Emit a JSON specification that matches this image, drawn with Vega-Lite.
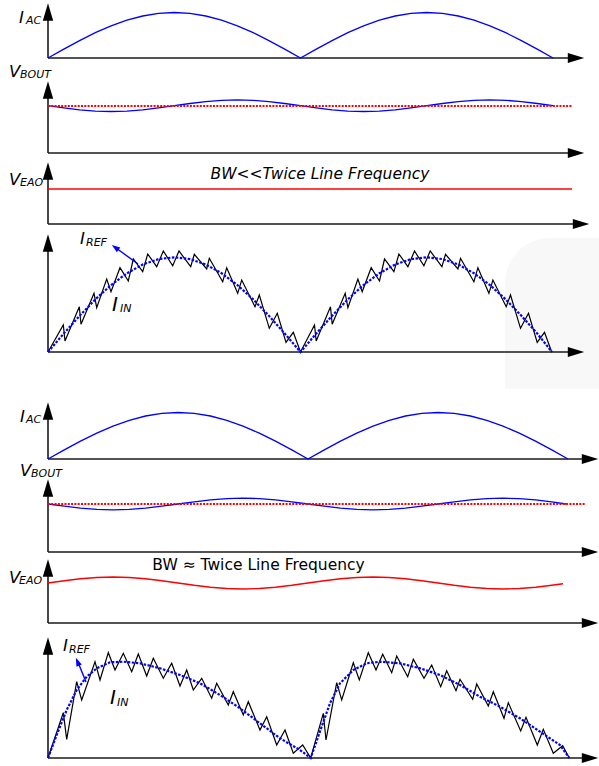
{
  "$schema": "https://vega.github.io/schema/vega-lite/v6.json",
  "width": 599,
  "height": 766,
  "autosize": {"type": "fit", "contains": "padding"},
  "padding": 0,
  "background": "white",
  "config": {"view": {"stroke": null}},
  "datasets": {
    "bg": [{"x": 505, "x2": 599, "y": 238, "y2": 389}],
    "vrules": [
      {"x": 48, "y": 12, "y2": 58}, {"x": 48, "y": 90, "y2": 153}, {"x": 48, "y": 171, "y2": 224}, {"x": 48, "y": 243, "y2": 352},
      {"x": 48, "y": 411, "y2": 459}, {"x": 48, "y": 488, "y2": 552}, {"x": 48, "y": 568, "y2": 623}, {"x": 48, "y": 646, "y2": 758}
    ],
    "hrules": [
      {"x": 48, "x2": 576, "y": 58}, {"x": 48, "x2": 576, "y": 153}, {"x": 48, "x2": 581, "y": 224}, {"x": 48, "x2": 576, "y": 352},
      {"x": 48, "x2": 590, "y": 459}, {"x": 48, "x2": 590, "y": 552}, {"x": 48, "x2": 590, "y": 623}, {"x": 48, "x2": 590, "y": 758}
    ],
    "upTips": [
      {"x": 48, "y": 12}, {"x": 48, "y": 90}, {"x": 48, "y": 171}, {"x": 48, "y": 243},
      {"x": 48, "y": 411}, {"x": 48, "y": 488}, {"x": 48, "y": 568}, {"x": 48, "y": 646}
    ],
    "rightTips": [
      {"x": 576, "y": 58}, {"x": 576, "y": 153}, {"x": 581, "y": 224}, {"x": 576, "y": 352},
      {"x": 590, "y": 459}, {"x": 590, "y": 552}, {"x": 590, "y": 623}, {"x": 590, "y": 758}
    ],
    "blueSolid": [
      {"s": "a", "x": 48, "y": 58}, {"s": "a", "x": 63.8, "y": 49.1}, {"s": "a", "x": 79.6, "y": 40.6}, {"s": "a", "x": 95.3, "y": 32.7}, {"s": "a", "x": 111.1, "y": 25.8}, {"s": "a", "x": 126.9, "y": 20.2}, {"s": "a", "x": 142.7, "y": 16.0}, {"s": "a", "x": 158.5, "y": 13.4}, {"s": "a", "x": 174.3, "y": 12.5}, {"s": "a", "x": 190.0, "y": 13.4}, {"s": "a", "x": 205.8, "y": 16.0}, {"s": "a", "x": 221.6, "y": 20.2}, {"s": "a", "x": 237.4, "y": 25.8}, {"s": "a", "x": 253.2, "y": 32.7}, {"s": "a", "x": 268.9, "y": 40.6}, {"s": "a", "x": 284.7, "y": 49.1}, {"s": "a", "x": 300.5, "y": 58},
      {"s": "a", "x": 316.3, "y": 49.1}, {"s": "a", "x": 332.1, "y": 40.6}, {"s": "a", "x": 347.8, "y": 32.7}, {"s": "a", "x": 363.6, "y": 25.8}, {"s": "a", "x": 379.4, "y": 20.2}, {"s": "a", "x": 395.2, "y": 16.0}, {"s": "a", "x": 411.0, "y": 13.4}, {"s": "a", "x": 426.8, "y": 12.5}, {"s": "a", "x": 442.5, "y": 13.4}, {"s": "a", "x": 458.3, "y": 16.0}, {"s": "a", "x": 474.1, "y": 20.2}, {"s": "a", "x": 489.9, "y": 25.8}, {"s": "a", "x": 505.7, "y": 32.7}, {"s": "a", "x": 521.4, "y": 40.6}, {"s": "a", "x": 537.2, "y": 49.1}, {"s": "a", "x": 553.0, "y": 58},
      {"s": "b", "x": 48, "y": 105.7}, {"s": "b", "x": 63.8, "y": 107.9}, {"s": "b", "x": 79.6, "y": 109.8}, {"s": "b", "x": 95.3, "y": 111.1}, {"s": "b", "x": 111.1, "y": 111.5}, {"s": "b", "x": 126.9, "y": 111.1}, {"s": "b", "x": 142.7, "y": 109.8}, {"s": "b", "x": 158.5, "y": 107.9}, {"s": "b", "x": 174.3, "y": 105.7}, {"s": "b", "x": 190.0, "y": 103.5}, {"s": "b", "x": 205.8, "y": 101.6}, {"s": "b", "x": 221.6, "y": 100.3}, {"s": "b", "x": 237.4, "y": 99.9}, {"s": "b", "x": 253.2, "y": 100.3}, {"s": "b", "x": 268.9, "y": 101.6}, {"s": "b", "x": 284.7, "y": 103.5}, {"s": "b", "x": 300.5, "y": 105.7},
      {"s": "b", "x": 316.3, "y": 107.9}, {"s": "b", "x": 332.1, "y": 109.8}, {"s": "b", "x": 347.8, "y": 111.1}, {"s": "b", "x": 363.6, "y": 111.5}, {"s": "b", "x": 379.4, "y": 111.1}, {"s": "b", "x": 395.2, "y": 109.8}, {"s": "b", "x": 411.0, "y": 107.9}, {"s": "b", "x": 426.8, "y": 105.7}, {"s": "b", "x": 442.5, "y": 103.5}, {"s": "b", "x": 458.3, "y": 101.6}, {"s": "b", "x": 474.1, "y": 100.3}, {"s": "b", "x": 489.9, "y": 99.9}, {"s": "b", "x": 505.7, "y": 100.3}, {"s": "b", "x": 521.4, "y": 101.6}, {"s": "b", "x": 537.2, "y": 103.5}, {"s": "b", "x": 553.0, "y": 105.7},
      {"s": "c", "x": 48, "y": 459}, {"s": "c", "x": 64.3, "y": 449.9}, {"s": "c", "x": 80.5, "y": 441.2}, {"s": "c", "x": 96.8, "y": 433.2}, {"s": "c", "x": 113, "y": 426.1}, {"s": "c", "x": 129.3, "y": 420.3}, {"s": "c", "x": 145.5, "y": 416.0}, {"s": "c", "x": 161.8, "y": 413.4}, {"s": "c", "x": 178, "y": 412.5}, {"s": "c", "x": 194.3, "y": 413.4}, {"s": "c", "x": 210.5, "y": 416.0}, {"s": "c", "x": 226.8, "y": 420.3}, {"s": "c", "x": 243, "y": 426.1}, {"s": "c", "x": 259.3, "y": 433.2}, {"s": "c", "x": 275.5, "y": 441.2}, {"s": "c", "x": 291.8, "y": 449.9}, {"s": "c", "x": 308, "y": 459},
      {"s": "c", "x": 324.3, "y": 449.9}, {"s": "c", "x": 340.5, "y": 441.2}, {"s": "c", "x": 356.8, "y": 433.2}, {"s": "c", "x": 373, "y": 426.1}, {"s": "c", "x": 389.3, "y": 420.3}, {"s": "c", "x": 405.5, "y": 416.0}, {"s": "c", "x": 421.8, "y": 413.4}, {"s": "c", "x": 438, "y": 412.5}, {"s": "c", "x": 454.3, "y": 413.4}, {"s": "c", "x": 470.5, "y": 416.0}, {"s": "c", "x": 486.8, "y": 420.3}, {"s": "c", "x": 503, "y": 426.1}, {"s": "c", "x": 519.3, "y": 433.2}, {"s": "c", "x": 535.5, "y": 441.2}, {"s": "c", "x": 551.8, "y": 449.9}, {"s": "c", "x": 568, "y": 459},
      {"s": "d", "x": 48, "y": 504}, {"s": "d", "x": 64.3, "y": 506.2}, {"s": "d", "x": 80.5, "y": 508.1}, {"s": "d", "x": 96.8, "y": 509.4}, {"s": "d", "x": 113, "y": 509.8}, {"s": "d", "x": 129.3, "y": 509.4}, {"s": "d", "x": 145.5, "y": 508.1}, {"s": "d", "x": 161.8, "y": 506.2}, {"s": "d", "x": 178, "y": 504}, {"s": "d", "x": 194.3, "y": 501.8}, {"s": "d", "x": 210.5, "y": 499.9}, {"s": "d", "x": 226.8, "y": 498.6}, {"s": "d", "x": 243, "y": 498.2}, {"s": "d", "x": 259.3, "y": 498.6}, {"s": "d", "x": 275.5, "y": 499.9}, {"s": "d", "x": 291.8, "y": 501.8}, {"s": "d", "x": 308, "y": 504},
      {"s": "d", "x": 324.3, "y": 506.2}, {"s": "d", "x": 340.5, "y": 508.1}, {"s": "d", "x": 356.8, "y": 509.4}, {"s": "d", "x": 373, "y": 509.8}, {"s": "d", "x": 389.3, "y": 509.4}, {"s": "d", "x": 405.5, "y": 508.1}, {"s": "d", "x": 421.8, "y": 506.2}, {"s": "d", "x": 438, "y": 504}, {"s": "d", "x": 454.3, "y": 501.8}, {"s": "d", "x": 470.5, "y": 499.9}, {"s": "d", "x": 486.8, "y": 498.6}, {"s": "d", "x": 503, "y": 498.2}, {"s": "d", "x": 519.3, "y": 498.6}, {"s": "d", "x": 535.5, "y": 499.9}, {"s": "d", "x": 551.8, "y": 501.8}, {"s": "d", "x": 566, "y": 504}
    ],
    "redSolid": [
      {"s": "e", "x": 48, "y": 189}, {"s": "e", "x": 572, "y": 189},
      {"s": "f", "x": 48, "y": 583}, {"s": "f", "x": 64.3, "y": 580.7}, {"s": "f", "x": 80.5, "y": 578.8}, {"s": "f", "x": 96.8, "y": 577.5}, {"s": "f", "x": 113, "y": 577}, {"s": "f", "x": 129.3, "y": 577.5}, {"s": "f", "x": 145.5, "y": 578.8}, {"s": "f", "x": 161.8, "y": 580.7}, {"s": "f", "x": 178, "y": 583}, {"s": "f", "x": 194.3, "y": 585.3}, {"s": "f", "x": 210.5, "y": 587.2}, {"s": "f", "x": 226.8, "y": 588.5}, {"s": "f", "x": 243, "y": 589}, {"s": "f", "x": 259.3, "y": 588.5}, {"s": "f", "x": 275.5, "y": 587.2}, {"s": "f", "x": 291.8, "y": 585.3}, {"s": "f", "x": 308, "y": 583},
      {"s": "f", "x": 324.3, "y": 580.7}, {"s": "f", "x": 340.5, "y": 578.8}, {"s": "f", "x": 356.8, "y": 577.5}, {"s": "f", "x": 373, "y": 577}, {"s": "f", "x": 389.3, "y": 577.5}, {"s": "f", "x": 405.5, "y": 578.8}, {"s": "f", "x": 421.8, "y": 580.7}, {"s": "f", "x": 438, "y": 583}, {"s": "f", "x": 454.3, "y": 585.3}, {"s": "f", "x": 470.5, "y": 587.2}, {"s": "f", "x": 486.8, "y": 588.5}, {"s": "f", "x": 503, "y": 589}, {"s": "f", "x": 519.3, "y": 588.5}, {"s": "f", "x": 535.5, "y": 587.2}, {"s": "f", "x": 551.8, "y": 585.3}, {"s": "f", "x": 563, "y": 583.8}
    ],
    "redDot": [
      {"s": "g", "x": 48, "y": 106}, {"s": "g", "x": 572, "y": 106},
      {"s": "h", "x": 48, "y": 504}, {"s": "h", "x": 586, "y": 504}
    ],
    "blueDot": [
      {"s": "i", "x": 48, "y": 352}, {"s": "i", "x": 63.8, "y": 333.5}, {"s": "i", "x": 79.6, "y": 315.8}, {"s": "i", "x": 95.3, "y": 299.4}, {"s": "i", "x": 111.1, "y": 285.0}, {"s": "i", "x": 126.9, "y": 273.3}, {"s": "i", "x": 142.7, "y": 264.5}, {"s": "i", "x": 158.5, "y": 259.1}, {"s": "i", "x": 174.3, "y": 257.3}, {"s": "i", "x": 190.0, "y": 259.1}, {"s": "i", "x": 205.8, "y": 264.5}, {"s": "i", "x": 221.6, "y": 273.3}, {"s": "i", "x": 237.4, "y": 285.0}, {"s": "i", "x": 253.2, "y": 299.4}, {"s": "i", "x": 268.9, "y": 315.8}, {"s": "i", "x": 284.7, "y": 333.5}, {"s": "i", "x": 300.5, "y": 352},
      {"s": "i", "x": 316.3, "y": 333.5}, {"s": "i", "x": 332.1, "y": 315.8}, {"s": "i", "x": 347.8, "y": 299.4}, {"s": "i", "x": 363.6, "y": 285.0}, {"s": "i", "x": 379.4, "y": 273.3}, {"s": "i", "x": 395.2, "y": 264.5}, {"s": "i", "x": 411.0, "y": 259.1}, {"s": "i", "x": 426.8, "y": 257.3}, {"s": "i", "x": 442.5, "y": 259.1}, {"s": "i", "x": 458.3, "y": 264.5}, {"s": "i", "x": 474.1, "y": 273.3}, {"s": "i", "x": 489.9, "y": 285.0}, {"s": "i", "x": 505.7, "y": 299.4}, {"s": "i", "x": 521.4, "y": 315.8}, {"s": "i", "x": 537.2, "y": 333.5}, {"s": "i", "x": 552, "y": 352},
      {"s": "j", "x": 48, "y": 758}, {"s": "j", "x": 57, "y": 734}, {"s": "j", "x": 66.7, "y": 710}, {"s": "j", "x": 76.7, "y": 690}, {"s": "j", "x": 86.7, "y": 676.7}, {"s": "j", "x": 96.7, "y": 668.3}, {"s": "j", "x": 110, "y": 662.3}, {"s": "j", "x": 123.3, "y": 661.7}, {"s": "j", "x": 140, "y": 663.3}, {"s": "j", "x": 160, "y": 668.3}, {"s": "j", "x": 180, "y": 675}, {"s": "j", "x": 200, "y": 683.3}, {"s": "j", "x": 220, "y": 695}, {"s": "j", "x": 240, "y": 708.3}, {"s": "j", "x": 260, "y": 723.3}, {"s": "j", "x": 280, "y": 738.3}, {"s": "j", "x": 300, "y": 750}, {"s": "j", "x": 310.7, "y": 758},
      {"s": "j", "x": 317, "y": 740}, {"s": "j", "x": 323.3, "y": 722}, {"s": "j", "x": 330, "y": 703.3}, {"s": "j", "x": 340, "y": 683.3}, {"s": "j", "x": 353.3, "y": 670}, {"s": "j", "x": 366.7, "y": 663.3}, {"s": "j", "x": 380, "y": 661.7}, {"s": "j", "x": 400, "y": 663.3}, {"s": "j", "x": 420, "y": 668.3}, {"s": "j", "x": 440, "y": 675}, {"s": "j", "x": 460, "y": 685}, {"s": "j", "x": 480, "y": 696.7}, {"s": "j", "x": 500, "y": 706.7}, {"s": "j", "x": 520, "y": 718.3}, {"s": "j", "x": 540, "y": 731.7}, {"s": "j", "x": 560, "y": 745}, {"s": "j", "x": 569.3, "y": 758}
    ],
    "zig": [
      {"s": "k", "x": 48, "y": 352}, {"s": "k", "x": 63.3, "y": 325}, {"s": "k", "x": 65, "y": 341}, {"s": "k", "x": 79.3, "y": 306.7}, {"s": "k", "x": 81, "y": 324.3}, {"s": "k", "x": 94, "y": 293.3}, {"s": "k", "x": 96.7, "y": 307.7}, {"s": "k", "x": 106.7, "y": 279}, {"s": "k", "x": 111, "y": 291.7}, {"s": "k", "x": 120, "y": 267.7}, {"s": "k", "x": 128.3, "y": 281}, {"s": "k", "x": 133.3, "y": 259}, {"s": "k", "x": 142.7, "y": 271.7}, {"s": "k", "x": 147.7, "y": 254}, {"s": "k", "x": 156.7, "y": 266.7}, {"s": "k", "x": 163.3, "y": 251}, {"s": "k", "x": 172.7, "y": 265.7}, {"s": "k", "x": 179, "y": 251}, {"s": "k", "x": 190.7, "y": 266.7}, {"s": "k", "x": 194.3, "y": 254.3}, {"s": "k", "x": 206.7, "y": 269}, {"s": "k", "x": 209.3, "y": 258.3}, {"s": "k", "x": 222.7, "y": 281.7}, {"s": "k", "x": 226.7, "y": 267.7}, {"s": "k", "x": 237.7, "y": 293.3}, {"s": "k", "x": 241.7, "y": 280}, {"s": "k", "x": 255, "y": 306.7}, {"s": "k", "x": 259.3, "y": 295}, {"s": "k", "x": 269.3, "y": 328.3}, {"s": "k", "x": 277.3, "y": 313.3}, {"s": "k", "x": 286, "y": 342.3}, {"s": "k", "x": 293.3, "y": 332.3}, {"s": "k", "x": 300.5, "y": 352},
      {"s": "k", "x": 314.5, "y": 325}, {"s": "k", "x": 316.2, "y": 341}, {"s": "k", "x": 330.5, "y": 306.7}, {"s": "k", "x": 332.2, "y": 324.3}, {"s": "k", "x": 345.2, "y": 293.3}, {"s": "k", "x": 347.9, "y": 307.7}, {"s": "k", "x": 357.9, "y": 279}, {"s": "k", "x": 362.2, "y": 291.7}, {"s": "k", "x": 371.2, "y": 267.7}, {"s": "k", "x": 379.5, "y": 281}, {"s": "k", "x": 384.5, "y": 259}, {"s": "k", "x": 393.9, "y": 271.7}, {"s": "k", "x": 398.9, "y": 254}, {"s": "k", "x": 407.9, "y": 266.7}, {"s": "k", "x": 414.5, "y": 251}, {"s": "k", "x": 423.9, "y": 265.7}, {"s": "k", "x": 430.2, "y": 251}, {"s": "k", "x": 441.9, "y": 266.7}, {"s": "k", "x": 445.5, "y": 254.3}, {"s": "k", "x": 457.9, "y": 269}, {"s": "k", "x": 460.5, "y": 258.3}, {"s": "k", "x": 473.9, "y": 281.7}, {"s": "k", "x": 477.9, "y": 267.7}, {"s": "k", "x": 488.9, "y": 293.3}, {"s": "k", "x": 492.9, "y": 280}, {"s": "k", "x": 506.2, "y": 306.7}, {"s": "k", "x": 510.5, "y": 295}, {"s": "k", "x": 520.5, "y": 328.3}, {"s": "k", "x": 528.5, "y": 313.3}, {"s": "k", "x": 537.2, "y": 342.3}, {"s": "k", "x": 544.5, "y": 332.3}, {"s": "k", "x": 551.7, "y": 352},
      {"s": "l", "x": 48, "y": 758}, {"s": "l", "x": 63.3, "y": 712.7}, {"s": "l", "x": 66.7, "y": 739.3}, {"s": "l", "x": 76.7, "y": 681.7}, {"s": "l", "x": 81.7, "y": 700}, {"s": "l", "x": 95, "y": 661.7}, {"s": "l", "x": 100, "y": 680}, {"s": "l", "x": 108.3, "y": 652.7}, {"s": "l", "x": 115, "y": 670}, {"s": "l", "x": 123.3, "y": 653.3}, {"s": "l", "x": 131.7, "y": 671.7}, {"s": "l", "x": 138.3, "y": 654}, {"s": "l", "x": 146.7, "y": 676}, {"s": "l", "x": 153.3, "y": 658.3}, {"s": "l", "x": 163.3, "y": 678.3}, {"s": "l", "x": 171.7, "y": 663.3}, {"s": "l", "x": 180, "y": 686}, {"s": "l", "x": 186.7, "y": 670}, {"s": "l", "x": 193.3, "y": 690}, {"s": "l", "x": 201.7, "y": 678.3}, {"s": "l", "x": 211.7, "y": 698.3}, {"s": "l", "x": 216.7, "y": 683.3}, {"s": "l", "x": 228.3, "y": 705}, {"s": "l", "x": 233.3, "y": 691.7}, {"s": "l", "x": 243.3, "y": 715}, {"s": "l", "x": 248.3, "y": 701.7}, {"s": "l", "x": 260, "y": 730}, {"s": "l", "x": 266.7, "y": 716.7}, {"s": "l", "x": 276.7, "y": 745}, {"s": "l", "x": 285, "y": 730}, {"s": "l", "x": 293.3, "y": 753.3}, {"s": "l", "x": 302.7, "y": 745}, {"s": "l", "x": 310.7, "y": 758},
      {"s": "l", "x": 323.3, "y": 713.3}, {"s": "l", "x": 326, "y": 740}, {"s": "l", "x": 336.7, "y": 682.7}, {"s": "l", "x": 341.7, "y": 700}, {"s": "l", "x": 353.3, "y": 662.7}, {"s": "l", "x": 359.3, "y": 680}, {"s": "l", "x": 368.3, "y": 652.7}, {"s": "l", "x": 376, "y": 670}, {"s": "l", "x": 382.7, "y": 654.3}, {"s": "l", "x": 391.7, "y": 672.7}, {"s": "l", "x": 396.7, "y": 656}, {"s": "l", "x": 407.7, "y": 676.7}, {"s": "l", "x": 413.3, "y": 659.3}, {"s": "l", "x": 424, "y": 678.3}, {"s": "l", "x": 431.7, "y": 665}, {"s": "l", "x": 440.7, "y": 686.7}, {"s": "l", "x": 446.7, "y": 670.7}, {"s": "l", "x": 456, "y": 690.7}, {"s": "l", "x": 460, "y": 679.3}, {"s": "l", "x": 472.7, "y": 699.3}, {"s": "l", "x": 476.7, "y": 684}, {"s": "l", "x": 488.3, "y": 706}, {"s": "l", "x": 493.3, "y": 691.7}, {"s": "l", "x": 504, "y": 718.3}, {"s": "l", "x": 508.3, "y": 702.7}, {"s": "l", "x": 520.7, "y": 731}, {"s": "l", "x": 526, "y": 717.3}, {"s": "l", "x": 537.3, "y": 745}, {"s": "l", "x": 543.3, "y": 729.3}, {"s": "l", "x": 553.3, "y": 753.3}, {"s": "l", "x": 562.7, "y": 745.7}, {"s": "l", "x": 569.3, "y": 758}
    ],
    "arrowLines": [
      {"s": "m", "x": 138, "y": 264}, {"s": "m", "x": 114, "y": 246.5},
      {"s": "n", "x": 86, "y": 682}, {"s": "n", "x": 77.5, "y": 661}
    ],
    "arrowHeads": [
      {"w": "upper", "x": 115.2, "y": 247.4},
      {"w": "lower", "x": 77.5, "y": 661.7}
    ],
    "labels": [
      {"k": "big", "t": "I", "x": 19, "y": 23},
      {"k": "sub", "t": "AC", "x": 26, "y": 24},
      {"k": "big", "t": "V", "x": 9, "y": 77},
      {"k": "sub", "t": "BOUT", "x": 20, "y": 78},
      {"k": "big", "t": "V", "x": 9, "y": 185},
      {"k": "sub", "t": "EAO", "x": 20, "y": 186},
      {"k": "big", "t": "I", "x": 80, "y": 244},
      {"k": "sub", "t": "REF", "x": 86, "y": 246},
      {"k": "big2", "t": "I", "x": 112, "y": 311},
      {"k": "sub", "t": "IN", "x": 120, "y": 312},
      {"k": "big", "t": "I", "x": 20, "y": 422},
      {"k": "sub", "t": "AC", "x": 26, "y": 423},
      {"k": "big", "t": "V", "x": 20, "y": 476},
      {"k": "sub", "t": "BOUT", "x": 31, "y": 477},
      {"k": "big", "t": "V", "x": 9, "y": 583},
      {"k": "sub", "t": "EAO", "x": 19, "y": 584},
      {"k": "big", "t": "I", "x": 63, "y": 651},
      {"k": "sub", "t": "REF", "x": 69, "y": 653},
      {"k": "big2", "t": "I", "x": 110, "y": 704},
      {"k": "sub", "t": "IN", "x": 117, "y": 706}
    ],
    "notes": [
      {"k": "it", "t": "BW<<Twice Line Frequency", "x": 320, "y": 179},
      {"k": "up", "t": "BW ≈ Twice Line Frequency", "x": 258.5, "y": 570}
    ]
  },
  "layer": [
    {
      "data": {"name": "bg"},
      "mark": {"type": "rect", "color": "#f8f8f8", "cornerRadiusTopLeft": 45},
      "encoding": {
        "x": {"field": "x", "type": "quantitative", "scale": {"domain": [0, 599], "nice": false, "zero": false}, "axis": null},
        "x2": {"field": "x2"},
        "y": {"field": "y", "type": "quantitative", "scale": {"domain": [0, 766], "nice": false, "zero": false, "reverse": true}, "axis": null},
        "y2": {"field": "y2"}
      }
    },
    {
      "data": {"name": "vrules"},
      "mark": {"type": "rule", "color": "#1a1a1a", "strokeWidth": 1.6},
      "encoding": {
        "x": {"field": "x", "type": "quantitative", "scale": {"domain": [0, 599], "nice": false, "zero": false}, "axis": null},
        "y": {"field": "y", "type": "quantitative", "scale": {"domain": [0, 766], "nice": false, "zero": false, "reverse": true}, "axis": null},
        "y2": {"field": "y2"}
      }
    },
    {
      "data": {"name": "hrules"},
      "mark": {"type": "rule", "color": "#1a1a1a", "strokeWidth": 1.6},
      "encoding": {
        "x": {"field": "x", "type": "quantitative", "scale": {"domain": [0, 599], "nice": false, "zero": false}, "axis": null},
        "x2": {"field": "x2"},
        "y": {"field": "y", "type": "quantitative", "scale": {"domain": [0, 766], "nice": false, "zero": false, "reverse": true}, "axis": null}
      }
    },
    {
      "data": {"name": "upTips"},
      "mark": {"type": "point", "shape": "M0,-1L0.6,1L-0.6,1Z", "size": 300, "filled": true, "color": "black", "opacity": 1, "strokeWidth": 0},
      "encoding": {
        "x": {"field": "x", "type": "quantitative", "scale": {"domain": [0, 599], "nice": false, "zero": false}, "axis": null},
        "y": {"field": "y", "type": "quantitative", "scale": {"domain": [0, 766], "nice": false, "zero": false, "reverse": true}, "axis": null}
      }
    },
    {
      "data": {"name": "rightTips"},
      "mark": {"type": "point", "shape": "M1,0L-1,-0.62L-1,0.62Z", "size": 270, "filled": true, "color": "black", "opacity": 1, "strokeWidth": 0},
      "encoding": {
        "x": {"field": "x", "type": "quantitative", "scale": {"domain": [0, 599], "nice": false, "zero": false}, "axis": null},
        "y": {"field": "y", "type": "quantitative", "scale": {"domain": [0, 766], "nice": false, "zero": false, "reverse": true}, "axis": null}
      }
    },
    {
      "data": {"name": "blueSolid"},
      "mark": {"type": "line", "color": "#0000ff", "strokeWidth": 1.3},
      "encoding": {
        "x": {"field": "x", "type": "quantitative", "scale": {"domain": [0, 599], "nice": false, "zero": false}, "axis": null},
        "y": {"field": "y", "type": "quantitative", "scale": {"domain": [0, 766], "nice": false, "zero": false, "reverse": true}, "axis": null},
        "detail": {"field": "s"}
      }
    },
    {
      "data": {"name": "redSolid"},
      "mark": {"type": "line", "color": "#ff0000", "strokeWidth": 1.4},
      "encoding": {
        "x": {"field": "x", "type": "quantitative", "scale": {"domain": [0, 599], "nice": false, "zero": false}, "axis": null},
        "y": {"field": "y", "type": "quantitative", "scale": {"domain": [0, 766], "nice": false, "zero": false, "reverse": true}, "axis": null},
        "detail": {"field": "s"}
      }
    },
    {
      "data": {"name": "redDot"},
      "mark": {"type": "line", "color": "#ff0000", "strokeWidth": 2.2, "strokeDash": [2, 1.3]},
      "encoding": {
        "x": {"field": "x", "type": "quantitative", "scale": {"domain": [0, 599], "nice": false, "zero": false}, "axis": null},
        "y": {"field": "y", "type": "quantitative", "scale": {"domain": [0, 766], "nice": false, "zero": false, "reverse": true}, "axis": null},
        "detail": {"field": "s"}
      }
    },
    {
      "data": {"name": "zig"},
      "mark": {"type": "line", "color": "#000000", "strokeWidth": 1.2},
      "encoding": {
        "x": {"field": "x", "type": "quantitative", "scale": {"domain": [0, 599], "nice": false, "zero": false}, "axis": null},
        "y": {"field": "y", "type": "quantitative", "scale": {"domain": [0, 766], "nice": false, "zero": false, "reverse": true}, "axis": null},
        "detail": {"field": "s"}
      }
    },
    {
      "data": {"name": "blueDot"},
      "mark": {"type": "line", "color": "#0000ff", "strokeWidth": 2.2, "strokeDash": [2.5, 1.5]},
      "encoding": {
        "x": {"field": "x", "type": "quantitative", "scale": {"domain": [0, 599], "nice": false, "zero": false}, "axis": null},
        "y": {"field": "y", "type": "quantitative", "scale": {"domain": [0, 766], "nice": false, "zero": false, "reverse": true}, "axis": null},
        "detail": {"field": "s"}
      }
    },
    {
      "data": {"name": "arrowLines"},
      "mark": {"type": "line", "color": "#0000ff", "strokeWidth": 1.4},
      "encoding": {
        "x": {"field": "x", "type": "quantitative", "scale": {"domain": [0, 599], "nice": false, "zero": false}, "axis": null},
        "y": {"field": "y", "type": "quantitative", "scale": {"domain": [0, 766], "nice": false, "zero": false, "reverse": true}, "axis": null},
        "detail": {"field": "s"}
      }
    },
    {
      "data": {"name": "arrowHeads"},
      "transform": [{"filter": "datum.w === 'upper'"}],
      "mark": {"type": "point", "shape": "M0,-1L0.7,1L-0.7,1Z", "size": 70, "filled": true, "color": "#0000ff", "opacity": 1, "strokeWidth": 0, "angle": 306},
      "encoding": {
        "x": {"field": "x", "type": "quantitative", "scale": {"domain": [0, 599], "nice": false, "zero": false}, "axis": null},
        "y": {"field": "y", "type": "quantitative", "scale": {"domain": [0, 766], "nice": false, "zero": false, "reverse": true}, "axis": null}
      }
    },
    {
      "data": {"name": "arrowHeads"},
      "transform": [{"filter": "datum.w === 'lower'"}],
      "mark": {"type": "point", "shape": "M0,-1L0.7,1L-0.7,1Z", "size": 70, "filled": true, "color": "#0000ff", "opacity": 1, "strokeWidth": 0, "angle": 337},
      "encoding": {
        "x": {"field": "x", "type": "quantitative", "scale": {"domain": [0, 599], "nice": false, "zero": false}, "axis": null},
        "y": {"field": "y", "type": "quantitative", "scale": {"domain": [0, 766], "nice": false, "zero": false, "reverse": true}, "axis": null}
      }
    },
    {
      "data": {"name": "labels"},
      "transform": [{"filter": "datum.k === 'big'"}],
      "mark": {"type": "text", "font": "DejaVu Sans", "fontStyle": "italic", "fontSize": 16.5, "align": "left", "baseline": "alphabetic", "color": "black"},
      "encoding": {
        "x": {"field": "x", "type": "quantitative", "scale": {"domain": [0, 599], "nice": false, "zero": false}, "axis": null},
        "y": {"field": "y", "type": "quantitative", "scale": {"domain": [0, 766], "nice": false, "zero": false, "reverse": true}, "axis": null},
        "text": {"field": "t"}
      }
    },
    {
      "data": {"name": "labels"},
      "transform": [{"filter": "datum.k === 'big2'"}],
      "mark": {"type": "text", "font": "DejaVu Sans", "fontStyle": "italic", "fontSize": 20, "align": "left", "baseline": "alphabetic", "color": "black"},
      "encoding": {
        "x": {"field": "x", "type": "quantitative", "scale": {"domain": [0, 599], "nice": false, "zero": false}, "axis": null},
        "y": {"field": "y", "type": "quantitative", "scale": {"domain": [0, 766], "nice": false, "zero": false, "reverse": true}, "axis": null},
        "text": {"field": "t"}
      }
    },
    {
      "data": {"name": "labels"},
      "transform": [{"filter": "datum.k === 'sub'"}],
      "mark": {"type": "text", "font": "DejaVu Sans", "fontStyle": "italic", "fontSize": 11, "align": "left", "baseline": "alphabetic", "color": "black"},
      "encoding": {
        "x": {"field": "x", "type": "quantitative", "scale": {"domain": [0, 599], "nice": false, "zero": false}, "axis": null},
        "y": {"field": "y", "type": "quantitative", "scale": {"domain": [0, 766], "nice": false, "zero": false, "reverse": true}, "axis": null},
        "text": {"field": "t"}
      }
    },
    {
      "data": {"name": "notes"},
      "transform": [{"filter": "datum.k === 'it'"}],
      "mark": {"type": "text", "font": "DejaVu Sans", "fontStyle": "italic", "fontSize": 15.5, "align": "center", "baseline": "alphabetic", "color": "black"},
      "encoding": {
        "x": {"field": "x", "type": "quantitative", "scale": {"domain": [0, 599], "nice": false, "zero": false}, "axis": null},
        "y": {"field": "y", "type": "quantitative", "scale": {"domain": [0, 766], "nice": false, "zero": false, "reverse": true}, "axis": null},
        "text": {"field": "t"}
      }
    },
    {
      "data": {"name": "notes"},
      "transform": [{"filter": "datum.k === 'up'"}],
      "mark": {"type": "text", "font": "DejaVu Sans", "fontSize": 15.5, "align": "center", "baseline": "alphabetic", "color": "black"},
      "encoding": {
        "x": {"field": "x", "type": "quantitative", "scale": {"domain": [0, 599], "nice": false, "zero": false}, "axis": null},
        "y": {"field": "y", "type": "quantitative", "scale": {"domain": [0, 766], "nice": false, "zero": false, "reverse": true}, "axis": null},
        "text": {"field": "t"}
      }
    }
  ]
}
